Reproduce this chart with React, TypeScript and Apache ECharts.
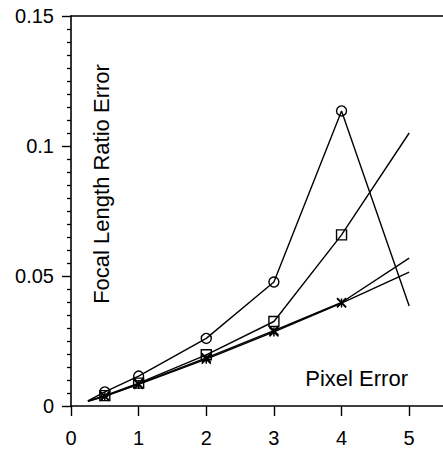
import React, { useEffect, useRef } from "react";
import * as echarts from "echarts";

const xValues = [0.25, 0.5, 1, 2, 3, 4, 5];
const circleSeries = [0.002, 0.0054, 0.0115, 0.026, 0.0477, 0.1135, 0.0385];
const squareSeries = [0.002, 0.004, 0.0088, 0.0197, 0.0325, 0.0658, 0.105];
const crossSeriesA = [0.0018, 0.0038, 0.0085, 0.0185, 0.029, 0.0398, 0.0569];
const crossSeriesB = [0.0018, 0.0037, 0.0083, 0.018, 0.0285, 0.0396, 0.0515];
const yTicks = [0, 0.05, 0.1, 0.15];
const xTicks = [0, 1, 2, 3, 4, 5];
const yTitle = "Focal Length Ratio Error";
const xTitle = "Pixel Error";

const FONT = "'Liberation Sans', Arial, Helvetica, sans-serif";

function buildData(vals: number[]) {
  return vals.map((v, i) => {
    const isEnd = i === 0 || i === vals.length - 1;
    return isEnd ? { value: [xValues[i], v], symbol: "none" } : { value: [xValues[i], v] };
  });
}

export default function App() {
  const ref = useRef<HTMLDivElement>(null);
  useEffect(() => {
    if (!ref.current) return;
    const chart = echarts.init(ref.current, null, { renderer: "svg" });
    const lineStyle = { color: "#000", width: 1.4 };
    const markerStyle = { color: "transparent", borderColor: "#000", borderWidth: 1.4 };
    const crossStyle = { color: "none", borderColor: "#000", borderWidth: 1.5 };
    const mk = (name: string, vals: number[], symbol: string, size: number, style: any) => ({
      name,
      type: "line",
      data: buildData(vals),
      symbol,
      symbolSize: size,
      showSymbol: true,
      lineStyle,
      itemStyle: style,
      emphasis: { disabled: true },
      z: 3,
    });
    chart.setOption({
      animation: false,
      backgroundColor: "#fff",
      grid: { left: 71, top: 16, right: 0, bottom: 50, containLabel: false },
      xAxis: [
        {
          type: "value",
          min: 0,
          max: 5.5,
          interval: 1,
          position: "bottom",
          axisLine: { show: true, onZero: false, lineStyle: { color: "#000", width: 1.6 } },
          axisTick: { show: true, length: 10, lineStyle: { color: "#000", width: 1.4 } },
          axisLabel: {
            show: true,
            margin: 22,
            fontSize: 20,
            fontFamily: FONT,
            color: "#000",
            showMaxLabel: false,
            formatter: (v: number) => (xTicks.includes(Math.round(v * 100) / 100) ? String(Math.round(v)) : ""),
          },
          splitLine: { show: false },
        },
        {
          type: "value",
          min: 0,
          max: 5.5,
          position: "top",
          axisLine: { show: true, onZero: false, lineStyle: { color: "#000", width: 1.6 } },
          axisTick: { show: false },
          axisLabel: { show: false },
          splitLine: { show: false },
        },
      ],
      yAxis: {
        type: "value",
        min: 0,
        max: 0.15,
        interval: 0.05,
        axisLine: { show: true, onZero: false, lineStyle: { color: "#000", width: 1.6 } },
        axisTick: { show: true, length: 9, lineStyle: { color: "#000", width: 1.4 } },
        minorTick: { show: true, splitNumber: 10, length: 4, lineStyle: { color: "#000", width: 1.3 } },
        axisLabel: {
          margin: 17,
          fontSize: 20,
          fontFamily: FONT,
          color: "#000",
          formatter: (v: number) => {
            const r = Math.round(v * 1000) / 1000;
            const t = yTicks.find((k) => Math.abs(k - r) < 1e-9);
            return t === undefined ? "" : String(t);
          },
        },
        splitLine: { show: false },
      },
      series: [
        mk("circle", circleSeries, "circle", 10, markerStyle),
        mk("square", squareSeries, "rect", 10, markerStyle),
        mk("crossA", crossSeriesA, "path://M0,0L10,10M10,0L0,10", 9, crossStyle),
        mk("crossB", crossSeriesB, "path://M0,0L10,10M10,0L0,10M5,0L5,10", 9, crossStyle),
      ],
      graphic: [
        {
          type: "text",
          x: 101,
          y: 184,
          rotation: Math.PI / 2,
          style: {
            text: yTitle,
            fontSize: 22,
            fontFamily: FONT,
            fill: "#000",
            align: "center",
            verticalAlign: "middle",
          },
        },
        {
          type: "text",
          x: 408,
          y: 378,
          style: {
            text: xTitle,
            fontSize: 22,
            fontFamily: FONT,
            fill: "#000",
            align: "right",
            verticalAlign: "middle",
          },
        },
      ],
    });
    return () => chart.dispose();
  }, []);
  return <div ref={ref} style={{ width: 443, height: 456, position: "absolute", left: 0, top: 0 }} />;
}
